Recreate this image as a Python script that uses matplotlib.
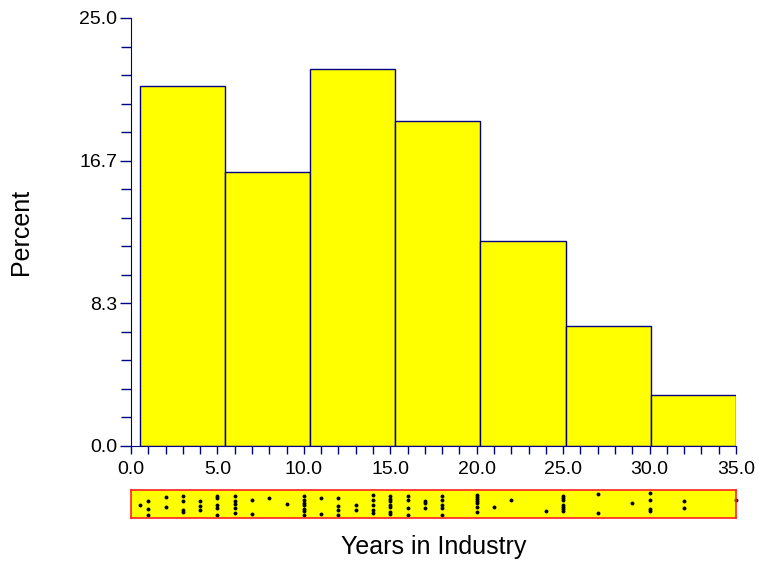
import matplotlib.pyplot as plt
from matplotlib.ticker import MultipleLocator

plt.rcParams['font.family'] = ['Liberation Sans', 'DejaVu Sans']

# histogram (percent per bin)
bin_edges = [0.5, 5.43, 10.36, 15.29, 20.21, 25.14, 30.07, 35.0]
percent = [21, 16, 22, 19, 12, 7, 3]

# dot strip: years value and vertical position inside the strip (0 = bottom, 1 = top)
rug_x = [0.5,
         1, 1, 1,
         2, 2,
         3, 3, 3, 3,
         4, 4, 4,
         5, 5, 5, 5, 5,
         6, 6, 6, 6, 6,
         7, 7,
         8,
         9,
         10, 10, 10, 10, 10, 10, 10,
         11, 11,
         12, 12, 12, 12,
         13, 13,
         14, 14, 14, 14, 14,
         15, 15, 15, 15, 15, 15, 15,
         16, 16, 16, 16,
         17, 17, 17,
         18, 18, 18, 18, 18,
         20, 20, 20, 20, 20, 20, 20,
         21,
         22,
         24,
         25, 25, 25, 25, 25, 25, 25,
         27, 27,
         29,
         30, 30, 30, 30,
         32, 32,
         35]
rug_y = [0.44,
         0.64, 0.28, 0.04,
         0.78, 0.39,
         0.84, 0.64, 0.27, 0.15,
         0.61, 0.41, 0.24,
         0.82, 0.73, 0.44, 0.35, 0.06,
         0.85, 0.62, 0.49, 0.33, 0.12,
         0.66, 0.08,
         0.74,
         0.49,
         0.85, 0.65, 0.56, 0.45, 0.29, 0.21, 0.04,
         0.76, 0.08,
         0.73, 0.41, 0.26, 0.06,
         0.47, 0.26,
         0.88, 0.68, 0.47, 0.24, 0.12,
         0.82, 0.71, 0.61, 0.47, 0.38, 0.18, 0.09,
         0.82, 0.65, 0.35, 0.04,
         0.62, 0.53, 0.33,
         0.82, 0.68, 0.45, 0.33, 0.06,
         0.88, 0.80, 0.71, 0.61, 0.53, 0.38, 0.18,
         0.39,
         0.65,
         0.21,
         0.85, 0.75, 0.66, 0.47, 0.38, 0.28, 0.19,
         0.92, 0.14,
         0.56,
         0.94, 0.65, 0.29, 0.21,
         0.61, 0.32,
         0.67]

navy = '#000080'

fig = plt.figure(figsize=(7.59, 5.62), dpi=100)
ax = fig.add_axes([131/759, 116/562, 605/759, 428/562])

widths = [bin_edges[i+1] - bin_edges[i] for i in range(len(percent))]
ax.bar(bin_edges[:-1], percent, width=widths, align='edge',
       color='#FFFF00', edgecolor=navy, linewidth=1)

ax.set_xlim(0, 35)
ax.set_ylim(0, 25)
ax.spines['top'].set_visible(False)
ax.spines['right'].set_visible(False)
ax.spines['left'].set_color(navy)
ax.spines['bottom'].set_color(navy)

ax.xaxis.set_major_locator(MultipleLocator(5))
ax.xaxis.set_minor_locator(MultipleLocator(1))
ax.set_xticklabels([f'{v:.1f}' for v in ax.get_xticks()])
ax.set_yticks([0, 25/3, 50/3, 25])
ax.set_yticklabels(['0.0', '8.3', '16.7', '25.0'])
ax.yaxis.set_minor_locator(MultipleLocator(25/15))
ax.tick_params(which='both', direction='out', color=navy, labelsize=14, labelcolor='black')
ax.tick_params(axis='x', which='major', length=6, width=1, pad=5)
ax.tick_params(axis='y', which='major', length=8, width=1, pad=2)
ax.tick_params(axis='x', which='minor', length=6, width=1)
ax.tick_params(axis='y', which='minor', length=7, width=1)
ax.set_ylabel('Percent', fontsize=18)
ax.yaxis.set_label_coords(-0.162, 0.5)

# dot strip under the histogram
rax = fig.add_axes([131/759, 44/562, 605/759, 28/562])
rax.set_facecolor('#FFFF00')
for s in rax.spines.values():
    s.set_color('#FF2020')
    s.set_linewidth(1.2)
rax.plot(rug_x, rug_y, 'o', color='black', markersize=2.2, markeredgewidth=0.6,
         clip_on=False)
rax.set_xlim(0, 35)
rax.set_ylim(-0.08, 1.08)
rax.set_xticks([])
rax.set_yticks([])
rax.set_xlabel('Years in Industry', fontsize=18, labelpad=12)

fig.savefig('out.png', dpi=100)
